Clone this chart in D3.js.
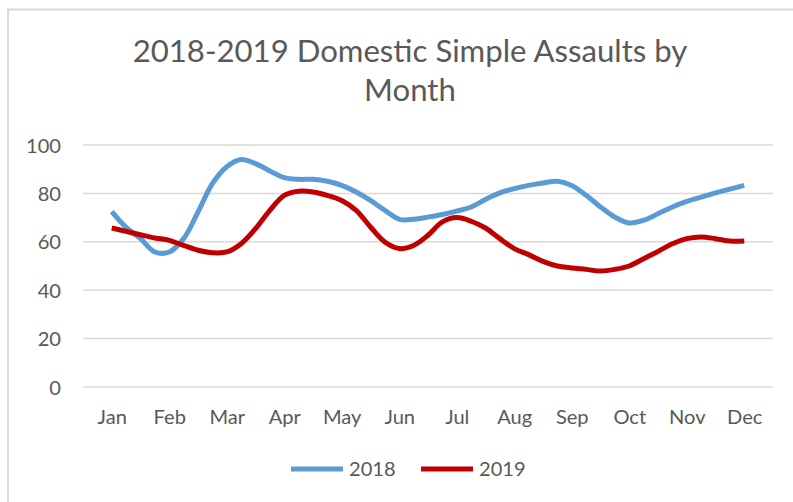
<!DOCTYPE html>
<html><head><meta charset="utf-8">
<script src="https://cdn.jsdelivr.net/npm/d3@7"></script>
<style>
html,body{margin:0;padding:0;background:#fff;}
svg{display:block;}
text{font-family:Lato,"Open Sans",sans-serif;fill:#595959;}
</style></head>
<body>
<svg id="chart" width="793" height="502"></svg>
<script>
const titleLines = ["2018-2019 Domestic Simple Assaults by", "Month"];
const months = ["Jan","Feb","Mar","Apr","May","Jun","Jul","Aug","Sep","Oct","Nov","Dec"];
const yTicks = [0, 20, 40, 60, 80, 100];
const seriesNames = ["2018", "2019"];
// values sampled every quarter month, from Jan to Dec
const v2018 = [72.5,66,61.3,55.8,55.8,61.3,72.3,84,91,94,92.3,89.3,86.5,85.8,85.8,85,83.3,80.6,77.1,73,
  69.3,69.3,70.2,71.3,72.7,74.4,77.5,80.2,82,83.3,84.3,85,83.3,79.2,74.4,70.2,67.8,68.9,71.6,74.4,76.7,78.5,80.2,81.8,83.3];
const v2019 = [65.7,64.3,62.9,61.6,60.6,58.5,56.5,55.5,55.8,59.2,65.4,73,79.2,80.9,80.6,79.2,77.1,73,66.1,59.9,
  57.2,58.5,62.7,68.2,70,68.5,65.7,61.3,57.2,54.7,51.9,50,49.2,48.6,47.9,48.6,50,53,56,59.2,61.3,62,61.3,60.3,60.3];
const colors = ["#5B9BD5", "#C00000"];

(function(){
const svg = d3.select("#chart");
svg.append("rect").attr("x",8).attr("y",9.5).attr("width",820).attr("height",520)
  .attr("fill","none").attr("stroke","#d9d9d9").attr("stroke-width",2);

function fit(sel, target){
  const w = sel.node().getComputedTextLength();
  const f = parseFloat(sel.attr("font-size"));
  sel.attr("font-size", f*target/w);
}

const t1 = svg.append("text").attr("x",410).attr("y",62).attr("text-anchor","middle")
  .attr("font-size",30).text(titleLines[0]);
fit(t1, 555);
svg.append("text").attr("x",410).attr("y",101).attr("text-anchor","middle")
  .attr("font-size",t1.attr("font-size")).text(titleLines[1]);

const pLeft = 83, pRight = 773, pTop = 145, pBottom = 387;
const y = d3.scaleLinear().domain([0,100]).range([pBottom, pTop]);
const xp = d3.scalePoint().domain(months).range([pLeft, pRight]).padding(0.5);
const xq = d3.scaleLinear().domain([0, months.length-1]).range([xp(months[0]), xp(months[months.length-1])]);

svg.append("g").selectAll("line").data(yTicks).join("line")
  .attr("x1",pLeft).attr("x2",pRight).attr("y1",d=>y(d)).attr("y2",d=>y(d))
  .attr("stroke","#d9d9d9").attr("stroke-width",1.5);

const yAxis = svg.append("g").attr("transform",`translate(${pLeft},0)`)
  .call(d3.axisLeft(y).tickValues(yTicks).tickSize(0).tickPadding(22));
yAxis.select(".domain").remove();
yAxis.selectAll("text").attr("font-size",20).style("font-family","Lato,'Open Sans',sans-serif").attr("fill","#595959");
const fs = 20*35/yAxis.selectAll("text").filter(d=>d===100).node().getComputedTextLength();
yAxis.selectAll("text").attr("font-size",fs).attr("dy","0.35em");

const xAxis = svg.append("g").attr("transform",`translate(0,${pBottom})`)
  .call(d3.axisBottom(xp).tickSize(0).tickPadding(23));
xAxis.select(".domain").remove();
xAxis.selectAll("text").attr("font-size",fs).style("font-family","Lato,'Open Sans',sans-serif").attr("fill","#595959");

const line = d3.line().x((d,i)=>xq(i/4)).y(d=>y(d)).curve(d3.curveCatmullRom.alpha(0.5));
[v2018, v2019].forEach((vals, k)=>{
  svg.append("path").datum(vals).attr("d",line).attr("fill","none")
    .attr("stroke",colors[k]).attr("stroke-width",5).attr("stroke-linejoin","round").attr("stroke-linecap","butt");
});

const legendX = [291, 421];
seriesNames.forEach((n,k)=>{
  svg.append("line").attr("x1",legendX[k]).attr("x2",legendX[k]+52).attr("y1",469).attr("y2",469)
    .attr("stroke",colors[k]).attr("stroke-width",5);
  svg.append("text").attr("x",legendX[k]+58).attr("y",469).attr("dy","0.35em")
    .attr("font-size",fs).text(n);
});
})();
</script>
</body></html>
